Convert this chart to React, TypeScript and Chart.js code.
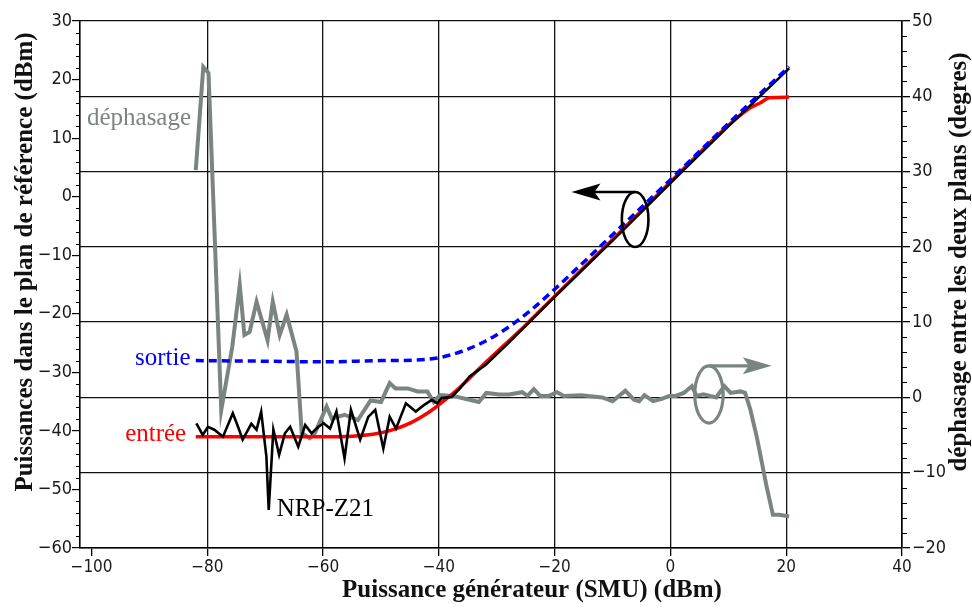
import React, { useEffect, useRef } from "react";
import { Chart, registerables } from "chart.js";
Chart.register(...registerables);

// ---- data ----
const phaseX = [-82.0, -80.7, -79.8, -77.6, -75.7, -74.4, -73.6, -72.7, -71.5, -69.6, -68.7, -67.5, -66.3, -64.6, -63.7, -62.3, -61.4, -59.4, -58.5, -56.3, -54.0, -51.8, -50.0, -48.5, -47.5, -45.4, -43.7, -42.0, -40.9, -39.8, -37.6, -35.3, -33.1, -31.8, -29.6, -27.9, -25.6, -24.7, -23.6, -22.5, -21.0, -19.6, -18.4, -15.4, -11.8, -10.0, -7.8, -6.3, -5.4, -4.5, -3.0, -1.5, -0.2, 0.9, 2.3, 3.7, 4.5, 5.7, 7.9, 9.3, 10.4, 12.1, 12.9, 13.8, 14.9, 15.7, 16.6, 17.7, 18.8, 20.5];
const phaseDeg = [30.2, 43.9, 43.1, -1.7, 6.7, 14.9, 8.3, 8.7, 12.7, 7.6, 12.7, 8.3, 11.0, 6.1, -4.7, -5.4, -4.7, -1.2, -2.8, -2.3, -3.0, -0.4, -0.6, 1.9, 1.2, 1.2, 0.8, 0.8, -0.6, 0.3, 0.2, -0.2, -0.6, 0.6, 0.4, 0.4, 0.7, 0.2, 1.1, 0.2, 0.2, 0.7, 0.2, 0.3, 0.0, -0.5, 0.9, -0.3, -0.5, 0.3, -0.5, -0.2, 0.2, 0.2, 0.6, 1.5, 0.2, 0.4, 0.0, 1.5, 0.6, 0.8, 0.6, -1.6, -5.2, -8.3, -11.8, -15.6, -15.6, -15.8];

const nrpX = [-81.9, -80.8, -79.9, -78.8, -77.3, -75.6, -74.7, -73.9, -72.4, -71.5, -70.7, -69.8, -69.4, -68.6, -67.6, -66.6, -65.7, -64.3, -63.1, -62.0, -60.8, -59.9, -58.8, -57.7, -56.3, -55.2, -53.6, -52.2, -51.0, -49.6, -48.5, -47.4, -45.7, -44.0, -42.6, -41.2, -40.3, -39.5, -37.8, -36.4, -34.7, -31.9, -28.0, -20.0, -10.0, 2.0, 10.0, 20.5];
const nrpDbm = [-38.7, -40.7, -39.3, -39.8, -41.0, -37.0, -39.3, -41.5, -38.8, -39.8, -36.7, -44.4, -53.5, -39.8, -44.1, -40.4, -39.3, -42.7, -39.0, -40.4, -39.3, -38.7, -39.6, -36.7, -44.7, -36.4, -41.5, -37.6, -36.4, -43.0, -37.6, -39.6, -35.3, -36.7, -35.6, -34.7, -35.3, -34.4, -34.2, -32.8, -30.7, -28.7, -25.0, -17.1, -7.5, 4.3, 12.0, 21.9];

const entreeX = [-82, -70, -60, -55, -50.4, -47.6, -44.8, -42.0, -39.8, -36.4, -31.9, -25.0, -20.0, -10.0, 0.0, 10.0, 13.8, 15.5, 17.1, 20.5];
const entreeDbm = [-41.0, -41.0, -41.0, -40.9, -40.4, -39.7, -38.6, -37.0, -35.4, -32.6, -28.3, -21.9, -17.0, -7.3, 2.5, 12.2, 15.2, 16.0, 16.9, 17.0];

const sortieX = [-82, -70, -60, -50, -44, -40, -36, -32, -28, -24, -20, -15, -10, 0, 10, 20.5];
const sortieDbm = [-28.0, -28.1, -28.2, -28.0, -27.9, -27.5, -26.4, -24.7, -22.3, -19.3, -15.8, -11.2, -6.5, 2.9, 12.5, 22.2];

const xTicks = [-100, -80, -60, -40, -20, 0, 20, 40];
const leftTicks = [-60, -50, -40, -30, -20, -10, 0, 10, 20, 30];
const rightTicks = [-20, -10, 0, 10, 20, 30, 40, 50];

const xTitle = "Puissance générateur (SMU) (dBm)";
const leftTitle = "Puissances dans le plan de référence (dBm)";
const rightTitle = "déphasage entre les deux plans (degres)";
const seriesLabels = ["déphasage", "sortie", "entrée", "NRP-Z21"];

// ---- styles / annotation placement (data units) ----
const GRAY = "#7a8582";
const labelPlacement = [
  { x: -100.8, y: 12.2, color: GRAY },
  { x: -92.5, y: -28.7, color: "#0000ff" },
  { x: -94.2, y: -41.7, color: "#ff0000" },
  { x: -68.0, y: -54.5, color: "#000000" },
];
const leftArrow = { cx: -6.1, cy: -3.9, rx: 2.3, ry: 4.7, tipX: -17.1 }; // left axis units
const rightArrow = { cx: 6.65, cy: 0.4, rx: 2.45, ry: 3.8, tipX: 17.5 }; // right axis units

const TICK_FONT = "'DejaVu Sans Condensed', 'DejaVu Sans', sans-serif";
const SERIF = "'Liberation Serif', 'Times New Roman', serif";

const pts = (xs: number[], ys: number[]) => xs.map((x, i) => ({ x, y: ys[i] }));
const fmt = (v: number) => (v < 0 ? "\u2212" + Math.abs(v) : String(v));

function drawArrow(ctx: CanvasRenderingContext2D, color: string, lw: number, cx: number, cy: number, rx: number, ry: number, tipX: number) {
  const topY = cy - ry;
  const dir = tipX < cx ? -1 : 1;
  ctx.save();
  ctx.strokeStyle = color;
  ctx.fillStyle = color;
  ctx.lineWidth = lw;
  ctx.beginPath();
  ctx.ellipse(cx, cy, rx, ry, 0, 0, Math.PI * 2);
  ctx.stroke();
  ctx.beginPath();
  ctx.moveTo(cx, topY);
  ctx.lineTo(tipX - dir * 8, topY);
  ctx.stroke();
  const hl = 29, hw = 8.5;
  ctx.beginPath();
  ctx.moveTo(tipX, topY);
  ctx.lineTo(tipX - dir * hl, topY - hw);
  ctx.lineTo(tipX - dir * (hl - 6), topY);
  ctx.lineTo(tipX - dir * hl, topY + hw);
  ctx.closePath();
  ctx.fill();
  ctx.restore();
}

const decor = {
  id: "decor",
  afterDatasetsDraw(chart: any) {
    const ctx = chart.ctx as CanvasRenderingContext2D;
    const { x, y, y1 } = chart.scales;
    {
      const cx = x.getPixelForValue(leftArrow.cx);
      const cy = y.getPixelForValue(leftArrow.cy);
      const rx = x.getPixelForValue(leftArrow.cx + leftArrow.rx) - cx;
      const ry = y.getPixelForValue(leftArrow.cy - leftArrow.ry) - cy;
      drawArrow(ctx, "#000", 2.6, cx, cy, rx, ry, x.getPixelForValue(leftArrow.tipX));
    }
    {
      const cx = x.getPixelForValue(rightArrow.cx);
      const cy = y1.getPixelForValue(rightArrow.cy);
      const rx = x.getPixelForValue(rightArrow.cx + rightArrow.rx) - cx;
      const ry = y1.getPixelForValue(rightArrow.cy - rightArrow.ry) - cy;
      drawArrow(ctx, GRAY, 3.2, cx, cy, rx, ry, x.getPixelForValue(rightArrow.tipX));
    }
    ctx.save();
    ctx.font = `25px ${SERIF}`;
    ctx.textAlign = "left";
    ctx.textBaseline = "alphabetic";
    seriesLabels.forEach((t, i) => {
      const p = labelPlacement[i];
      ctx.fillStyle = p.color;
      ctx.fillText(t, x.getPixelForValue(p.x), y.getPixelForValue(p.y));
    });
    ctx.restore();
  },
  afterDraw(chart: any) {
    const ctx = chart.ctx as CanvasRenderingContext2D;
    const { y, y1 } = chart.scales;
    const area = chart.chartArea;
    ctx.save();
    ctx.strokeStyle = "#000";
    ctx.lineWidth = 1.2;
    ctx.beginPath();
    for (let v = leftTicks[0]; v <= leftTicks[leftTicks.length - 1]; v += 2) {
      if (v % 10 === 0) continue;
      const py = Math.round(y.getPixelForValue(v)) + 0.5;
      ctx.moveTo(area.left - 4, py);
      ctx.lineTo(area.left, py);
    }
    for (let v = rightTicks[0]; v <= rightTicks[rightTicks.length - 1]; v += 2) {
      if (v % 10 === 0) continue;
      const py = Math.round(y1.getPixelForValue(v)) + 0.5;
      ctx.moveTo(area.right, py);
      ctx.lineTo(area.right + 5, py);
    }
    ctx.stroke();
    ctx.fillStyle = "#111";
    ctx.font = `bold 25px ${SERIF}`;
    ctx.textAlign = "center";
    ctx.textBaseline = "alphabetic";
    ctx.fillText(xTitle, 532, 597);
    ctx.save();
    ctx.translate(31.5, 262);
    ctx.rotate(-Math.PI / 2);
    ctx.fillText(leftTitle, 0, 0);
    ctx.restore();
    ctx.save();
    ctx.translate(966, 262);
    ctx.rotate(-Math.PI / 2);
    ctx.fillText(rightTitle, 0, 0);
    ctx.restore();
    ctx.restore();
  },
};

export default function App() {
  const ref = useRef<HTMLCanvasElement>(null);
  useEffect(() => {
    if (!ref.current) return;
    const chart = new Chart(ref.current, {
      type: "scatter",
      data: {
        datasets: [
          {
            label: "sortie",
            data: pts(sortieX, sortieDbm),
            yAxisID: "y",
            showLine: true,
            borderColor: "#0000ff",
            borderWidth: 3.5,
            borderDash: [8, 5],
            pointRadius: 0,
            cubicInterpolationMode: "monotone",
          },
          {
            label: "NRP-Z21",
            data: pts(nrpX, nrpDbm),
            yAxisID: "y",
            showLine: true,
            borderColor: "#000000",
            borderWidth: 2.6,
            pointRadius: 0,
            tension: 0,
          },
          {
            label: "entrée",
            data: pts(entreeX, entreeDbm),
            yAxisID: "y",
            showLine: true,
            borderColor: "#ff0000",
            borderWidth: 3.5,
            pointRadius: 0,
            cubicInterpolationMode: "monotone",
          },
          {
            label: "déphasage",
            data: pts(phaseX, phaseDeg),
            yAxisID: "y1",
            showLine: true,
            borderColor: GRAY,
            borderWidth: 4,
            pointRadius: 0,
            tension: 0,
          },
        ],
      },
      options: {
        animation: false,
        responsive: false,
        devicePixelRatio: 1,
        layout: { padding: { top: 21, left: 0, right: 0, bottom: 0 } },
        plugins: { legend: { display: false }, tooltip: { enabled: false } },
        scales: {
          x: {
            type: "linear",
            min: -102,
            max: 40,
            afterBuildTicks: (s: any) => { s.ticks = xTicks.map((v) => ({ value: v })); },
            afterFit: (s: any) => { s.height = 64; },
            grid: {
              color: (c: any) => (c.tick && c.tick.value === -100 ? "rgba(0,0,0,0)" : "#111"),
              lineWidth: 1.3,
              tickColor: "#000",
              tickLength: 8,
              drawTicks: true,
            },
            border: { display: true, color: "#000", width: 1.6 },
            ticks: {
              autoSkip: false,
              maxRotation: 0,
              padding: 1,
              color: "#1a1a1a",
              font: { family: TICK_FONT, size: 17 },
              callback: (v: any) => fmt(Number(v)),
            },
          },
          y: {
            type: "linear",
            position: "left",
            min: -60,
            max: 30,
            afterBuildTicks: (s: any) => { s.ticks = leftTicks.map((v) => ({ value: v })); },
            afterFit: (s: any) => { s.width = 80; },
            grid: { drawOnChartArea: false, tickLength: 8, tickColor: "#000", lineWidth: 1.2 },
            border: { display: true, color: "#000", width: 1.6 },
            ticks: {
              padding: 0,
              color: "#1a1a1a",
              font: { family: TICK_FONT, size: 18 },
              callback: (v: any) => fmt(Number(v)),
            },
          },
          y1: {
            type: "linear",
            position: "right",
            min: -20,
            max: 50,
            afterBuildTicks: (s: any) => { s.ticks = rightTicks.map((v) => ({ value: v })); },
            afterFit: (s: any) => { s.width = 70; },
            grid: { drawOnChartArea: true, color: "#111", lineWidth: 1.3, tickLength: 8, tickColor: "#000" },
            border: { display: true, color: "#000", width: 1.6 },
            ticks: {
              padding: 2,
              color: "#1a1a1a",
              font: { family: TICK_FONT, size: 18 },
              callback: (v: any) => fmt(Number(v)),
            },
          },
        },
      },
      plugins: [decor],
    } as any);
    return () => chart.destroy();
  }, []);
  return (
    <div style={{ position: "fixed", left: 0, top: 0, width: 972, height: 612, background: "#fff" }}>
      <canvas ref={ref} width={972} height={612} style={{ display: "block" }} />
    </div>
  );
}
